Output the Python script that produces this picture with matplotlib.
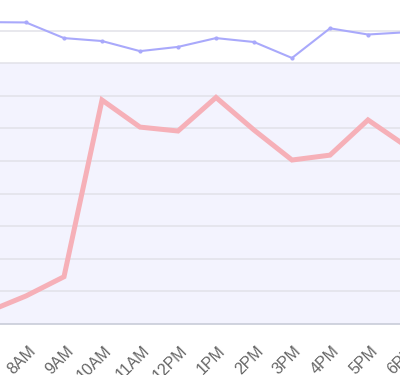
import numpy as np
import matplotlib.pyplot as plt
import matplotlib.transforms as mtransforms

# hourly categories (7AM sits just off the left edge of the crop)
hours = ['7AM', '8AM', '9AM', '10AM', '11AM', '12PM', '1PM', '2PM', '3PM', '4PM', '5PM', '6PM']
pink_vals = [3.8, 8.6, 14.5, 68.7, 60.4, 59.2, 69.5, 59.5, 50.3, 51.8, 62.6, 54.6]
blue_vals = [92.6, 92.5, 87.7, 86.8, 83.7, 85.0, 87.7, 86.5, 81.6, 90.7, 88.8, 89.5]
grid_vals = [10, 20, 30, 40, 50, 60, 70, 80, 90]
band_range = (0, 80)


def plot_chart():
    fig = plt.figure(figsize=(4.0, 3.75), dpi=100)
    # plot area runs past the left/right/top edges (cropped view):
    # category i sits at pixel -12 + 38*i
    ax = fig.add_axes([-12 / 400, 51 / 375, 430 / 400, 324 / 375])

    x = np.arange(len(hours))

    ax.axhspan(band_range[0], band_range[1], color='#f3f3fe', zorder=0)
    for g in grid_vals:
        ax.axhline(g, color='#e2e2e8', linewidth=1.1, zorder=1)

    ax.plot(x, blue_vals, color='#a9a9fb', linewidth=1.5, zorder=3,
            marker='o', markersize=2)
    ax.plot(x, pink_vals, color='#f6b0b8', linewidth=3.6, zorder=3,
            solid_joinstyle='miter')

    for s in ['top', 'left', 'right']:
        ax.spines[s].set_visible(False)
    ax.spines['bottom'].set_color('#c8ccd8')
    ax.spines['bottom'].set_linewidth(1.2)

    ax.set_yticks([])
    ax.set_xticks(x)
    ax.set_xticklabels(hours, rotation=45, ha='right', va='center',
                       rotation_mode='anchor', fontsize=11.5,
                       family=['Liberation Sans', 'DejaVu Sans'], color='#666666')
    ax.tick_params(axis='x', length=0, pad=17.5)
    # labels sit a little right of their tick, like the original
    shift = mtransforms.ScaledTranslation(7 / 100, 0, fig.dpi_scale_trans)
    for lbl in ax.get_xticklabels():
        lbl.set_transform(lbl.get_transform() + shift)

    # limits last, set_xticks would widen them
    ax.set_xlim(0, 430 / 38)
    ax.set_ylim(0, 324 / 3.26)

    fig.savefig('out.png', dpi=100)


if __name__ == '__main__':
    plot_chart()
